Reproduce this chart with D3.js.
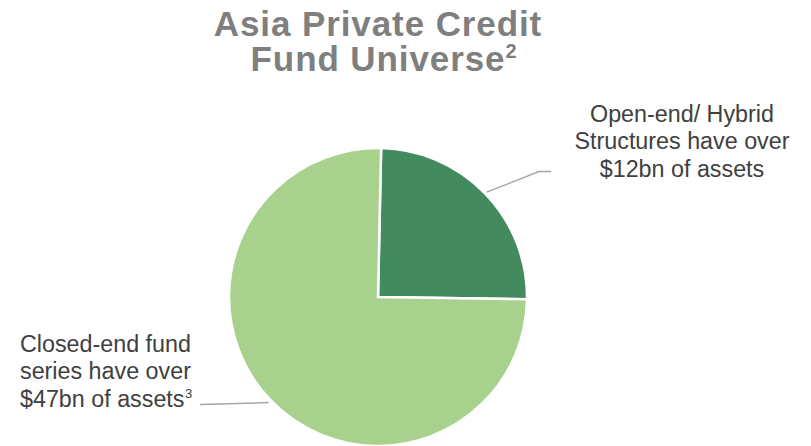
<!DOCTYPE html>
<html>
<head>
<meta charset="utf-8">
<script src="https://cdn.jsdelivr.net/npm/d3@7"></script>
<style>
  html, body { margin: 0; padding: 0; background: #ffffff; }
  svg { display: block; font-family: "Liberation Sans", Arial, sans-serif; }
</style>
</head>
<body>
<svg id="chart" width="811" height="446"></svg>
<script>
// Segments of the fund universe, their share of the pie (%) and the headline assets figure
const segments = ["Open-end/ Hybrid Structures", "Closed-end fund series"];
const pieShares = [24.9, 75.1];
const assetsBn = [12, 47];
const sliceColors = ["#438b5e", "#a9d18e"];

// Label text lines for each segment
const labelLines = [
  ["Open-end/ Hybrid", "Structures have over", "$" + assetsBn[0] + "bn of assets"],
  ["Closed-end fund", "series have over", "$" + assetsBn[1] + "bn of assets"]
];
const labelNotes = ["", "3"];

const titleLines = ["Asia Private Credit", "Fund Universe"];
const titleNote = "2";

const svg = d3.select("#chart");

const cx = 378, cy = 297, radius = 149;
const rotation = 1.2 * Math.PI / 180;

const pie = d3.pie().sort(null).value(d => d)
  .startAngle(rotation).endAngle(rotation + 2 * Math.PI);
const arcs = pie(pieShares);
const arc = d3.arc().innerRadius(0).outerRadius(radius);

const g = svg.append("g").attr("transform", `translate(${cx},${cy})`);

g.selectAll("path.slice")
  .data(arcs)
  .join("path")
  .attr("class", "slice")
  .attr("d", arc)
  .attr("fill", (d, i) => sliceColors[i])
  .attr("stroke", "#ffffff")
  .attr("stroke-width", 2.5)
  .attr("stroke-linejoin", "miter");

// Leader lines from the middle of each slice's rim
const rimPoint = (d, r) => {
  const a = (d.startAngle + d.endAngle) / 2;
  return [cx + r * Math.sin(a), cy - r * Math.cos(a)];
};

const p0 = rimPoint(arcs[0], radius + 2);
svg.append("polyline")
  .attr("points", [p0, [539, 171.5], [551, 171.5]].map(p => p.join(",")).join(" "))
  .attr("fill", "none")
  .attr("stroke", "#a6a6a6")
  .attr("stroke-width", 1.5);

const p1 = rimPoint(arcs[1], radius + 3);
svg.append("polyline")
  .attr("points", [p1, [200, 404.5]].map(p => p.join(",")).join(" "))
  .attr("fill", "none")
  .attr("stroke", "#a6a6a6")
  .attr("stroke-width", 1.5);

// Title, two centred lines with a footnote marker
const titleX = 378;
const titleY = [36, 71];
titleLines.forEach((s, i) => {
  svg.append("text")
    .attr("class", "title-line")
    .attr("x", titleX)
    .attr("y", titleY[i])
    .attr("text-anchor", "middle")
    .attr("fill", "#7f7f7f")
    .attr("font-weight", "bold")
    .attr("font-size", 35)
    .attr("letter-spacing", 0.9)
    .text(s);
});
const lastTitle = svg.selectAll("text.title-line").nodes()[1];
const lastBox = lastTitle.getBBox();
svg.append("text")
  .attr("x", lastBox.x + lastBox.width)
  .attr("y", titleY[1] - 13)
  .attr("fill", "#7f7f7f")
  .attr("font-weight", "bold")
  .attr("font-size", 20)
  .text(titleNote);

// Slice labels
const labelSize = 23.3;
const lineGap = 27.5;

const rightLabel = svg.append("text")
  .attr("text-anchor", "middle")
  .attr("fill", "#404040")
  .attr("font-size", labelSize);
labelLines[0].forEach((s, i) => {
  rightLabel.append("tspan").attr("x", 682).attr("y", 121.5 + i * lineGap).text(s);
});

const leftLabel = svg.append("text")
  .attr("text-anchor", "start")
  .attr("fill", "#404040")
  .attr("font-size", labelSize);
labelLines[1].forEach((s, i) => {
  leftLabel.append("tspan").attr("x", 20).attr("y", 351.5 + i * lineGap).text(s);
});
const leftLast = leftLabel.selectAll("tspan").nodes()[2];
const leftEnd = 20 + leftLast.getComputedTextLength();
svg.append("text")
  .attr("x", leftEnd + 0.5)
  .attr("y", 351.5 + 2 * lineGap - 9)
  .attr("fill", "#404040")
  .attr("font-size", 13)
  .text(labelNotes[1]);
</script>
</body>
</html>
